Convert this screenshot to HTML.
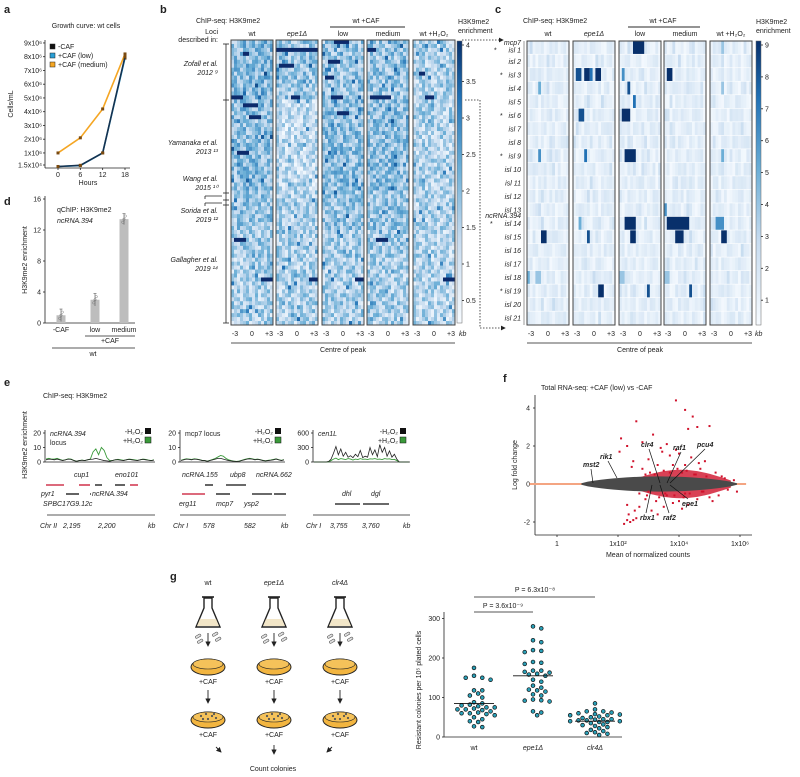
<!DOCTYPE html>
<html><head><meta charset="utf-8"><style>
html,body{margin:0;padding:0;background:#fff}
svg{display:block;font-family:"Liberation Sans",sans-serif}
text{fill:#222}
</style></head><body>
<svg id="fig" width="800" height="777" viewBox="0 0 800 777" xmlns="http://www.w3.org/2000/svg">
<defs>
<linearGradient id="cbar" x1="0" y1="1" x2="0" y2="0">
<stop offset="0" stop-color="#f7fbff"/><stop offset="0.3" stop-color="#c6dbef"/><stop offset="0.55" stop-color="#6baed6"/><stop offset="0.8" stop-color="#2171b5"/><stop offset="1" stop-color="#08306b"/>
</linearGradient>
<marker id="arr" markerWidth="6" markerHeight="6" refX="5" refY="3" orient="auto"><path d="M0,0 L6,3 L0,6 z" fill="#222"/></marker>
</defs>
</svg>
<script>
// ---------- DATA ----------
const aHours=[0,6,12,18];
const aNoCaf=[0.015,0.1,1.0,8.0];
const aLow=[0.015,0.08,1.0,7.9];
const aMed=[1.0,2.1,4.2,8.2];
const dCats=["-CAF","low","medium"];
const dVals=[1.0,3.0,13.4];
const dErr=[0.8,0.8,0.7];
const bSectionMeans=[[0.42,0.36,0.36,0.36,0.3],[0.4,0.24,0.4,0.4,0.28],[0.36,0.3,0.36,0.36,0.28],[0.32,0.3,0.32,0.32,0.28],[0.3,0.3,0.3,0.3,0.27]];
const bStreaks=[[0,3,4,5],[0,14,0,3],[0,16,4,8],[0,19,6,9],[0,60,10,13],[0,50,1,4],[0,28,2,5],[1,2,0,13],[1,6,1,5],[1,14,5,7],[1,60,11,13],[2,0,4,8],[2,5,2,5],[2,9,1,3],[2,14,3,6],[2,18,5,8],[2,60,11,13],[3,2,0,2],[3,14,1,7],[3,50,3,6],[4,14,4,6],[4,60,10,13],[4,8,2,3]];
const cRows=["isl 1","isl 2","isl 3","isl 4","isl 5","isl 6","isl 7","isl 8","isl 9","isl 10","isl 11","isl 12","isl 13","isl 14","isl 15","isl 16","isl 17","isl 18","isl 19","isl 20","isl 21"];
const cStar=[0,2,5,8,13,18];
const cBlocks=[[2,0,5,8,9],[2,2,1,1,6],[2,3,3,3,8],[2,4,5,5,7],[2,5,1,3,9],[2,8,2,5,9],[2,13,2,5,9],[2,14,4,5,9],[2,18,10,10,8],[2,17,0,1,4],
[1,2,1,2,8],[1,2,4,5,9],[1,2,6,6,7],[1,2,8,9,9],[1,5,2,3,8],[1,8,4,4,7],[1,14,5,5,8],[1,18,9,10,9],[1,13,2,2,5],
[3,2,1,2,9],[3,13,1,8,9],[3,14,4,6,9],[3,18,9,9,8],[3,12,0,0,6],[3,17,0,1,4],
[0,3,4,4,5],[0,8,4,4,6],[0,14,5,6,9],[0,17,0,0,5],[0,17,3,4,4],
[4,13,2,4,6],[4,14,4,5,9],[4,0,4,4,4],[4,8,4,4,5],[4,3,4,4,4]];
const e1Black=[1.5,2,1.8,1.5,2,1.5,1,1.5,2,1.8,1,0.5,1,1.2,1,1.5,1.8,2,2.5,2,1.5,1,0.8,0.5,1,1.5,1.5,1.2,1,1.5,1.8,1.5,1.2,1,1.5,1.8,1.5,1.2,1,1.3];
const e1Green=[2,2.5,2,2,2.5,1.8,1.2,1.5,2.2,2,1.2,0.5,1,1.3,1,1.5,2,7,9,5,10,8,3,1,1,1.5,1.8,1.5,1.2,1.5,2,1.8,1.5,1.2,1.5,2,1.8,1.3,1,1.5];
const e2Black=[1,1.5,2,1.8,1.5,2,1.8,1.5,1,1,0.5,1,1.5,2,2.5,2.5,2,1.5,1,0.8,0.5,0.3,0.5,1,1.5,2,2.2,2,1.5,1.8,1.5,1,0.8,1,1.2,1.5,2,1.5,1,1.5];
const e2Green=[1.2,1.8,2.2,2,1.8,2.2,2,1.6,1.2,1,0.6,1.2,1.8,2.5,3.5,4.5,4,2.5,1.5,1,0.6,0.4,0.6,1.2,1.8,2.2,2.5,2.2,1.8,2,1.6,1.2,0.8,1.2,1.4,1.8,2.2,1.6,1.2,1.6];
const e3Black=[0,0,0,0,0,0,10,60,180,320,150,270,120,200,100,130,90,160,110,240,90,120,100,300,150,250,110,360,200,300,120,230,100,160,60,0,0,0,0,0];
const e3Green=[0,0,0,0,0,0,5,30,60,80,50,70,60,50,70,60,40,60,50,70,55,60,50,65,60,70,55,60,50,70,60,65,50,55,30,0,0,0,0,0];
const fRedX=[3.9,4.2,4.45,4.6,4.3,5.0,2.6,2.1,2.8,3.15,2.3,3.6,2.05,4.85,3.4,3.7,4.0,4.4,2.5,3.0,3.3,3.8,4.2,4.7,5.2,5.5,5.8,2.8,3.5,4.1,4.5,3.2,2.9,2.2,2.3,2.4,2.5,2.6,2.35,2.55,2.7,2.3,3.1,3.3,3.5,3.8,4.0,4.3,4.6,5.0,5.3,5.9,2.9,3.6,4.2,4.8,3.0,2.7,3.45,3.9,4.1,4.65,5.1,3.25,2.45,3.7,3.95,4.25,4.55,4.9,3.35,3.55,3.85,4.15,4.35,4.75,5.4,5.6,3.05,2.95];
const fRedY=[4.4,3.9,3.55,3.0,2.9,3.05,3.3,2.4,2.2,2.6,2.0,2.1,1.7,1.2,1.9,1.5,1.6,1.4,1.2,1.3,1.0,1.0,1.0,0.8,0.6,0.3,0.2,0.8,0.7,0.6,0.5,0.5,0.5,-2.1,-1.9,-2.0,-1.9,-1.8,-1.6,-1.4,-1.2,-1.1,-1.4,-1.6,-1.2,-1.0,-0.9,-1.1,-0.8,-0.7,-0.6,-0.4,-0.8,-0.6,-0.5,-0.4,-0.4,-0.5,1.7,1.8,-1.3,1.1,-0.9,-0.9,0.9,0.6,0.8,0.7,0.5,0.4,-0.7,-0.5,-0.6,-0.7,-0.5,-0.4,0.4,-0.3,0.6,-0.6];
const gCats=["wt","epe1Δ","clr4Δ"];
const gWt=[175,155,150,150,145,118,118,110,105,100,88,85,82,80,78,75,75,72,70,70,68,65,62,60,60,58,55,50,45,40,38,27,25];
const gEpe1=[280,275,245,240,220,218,215,190,188,185,168,168,165,163,160,158,155,145,140,130,125,120,118,115,108,105,95,93,92,90,65,62,55];
const gClr4=[85,70,65,65,62,60,58,57,55,55,52,50,48,45,45,44,42,42,40,40,38,38,35,32,30,28,25,22,18,15,12,10,8,5];
const gMedians=[85,155,40];

// ---------- HELPERS ----------
const svg=document.getElementById('fig');
const NS='http://www.w3.org/2000/svg';
function mk(tag,attrs,parent){const e=document.createElementNS(NS,tag);for(const k in attrs)e.setAttribute(k,attrs[k]);(parent||svg).appendChild(e);return e;}
function grp(name){const g=document.createElementNS(NS,'g');


svg.appendChild(g);return g;}
function txt(p,x,y,s,size,opts){opts=opts||{};const t=mk('text',{x:x,y:y,'font-size':size||7,'text-anchor':opts.anchor||'start'},p);if(opts.italic)t.setAttribute('font-style','italic');if(opts.bold)t.setAttribute('font-weight','bold');if(opts.rot)t.setAttribute('transform','rotate(-90 '+x+' '+y+')');t.textContent=s;return t;}
function line(p,x1,y1,x2,y2,c,w,dash){const l=mk('line',{x1:x1,y1:y1,x2:x2,y2:y2,stroke:c||'#222','stroke-width':w||0.8},p);if(dash)l.setAttribute('stroke-dasharray',dash);return l;}
function hash(a,b,c){let h=(a*374761393+b*668265263+c*2147483647)|0;h=(h^(h>>>13))*1274126177|0;return ((h^(h>>>16))>>>0)/4294967295;}
const stops=[[247,251,255],[198,219,239],[107,174,214],[33,113,181],[8,48,107]];
function blue(t){t=Math.max(0,Math.min(1,t));const p=t*4,i=Math.min(3,Math.floor(p)),f=p-i;const a=stops[i],b=stops[i+1];return 'rgb('+a.map((v,k)=>Math.round(v+(b[k]-v)*f)).join(',')+')';}
function label(ch,x,y){const t=txt(svg,x,y,ch,11,{bold:true});}

// ---------- PANEL A ----------
(function(){
const g=grp('panel-a-growth-curve');label('a',4,13);
const xS=h=>58+h*(125-58)/18, yS=v=>166.7-v*13.75;
txt(g,86,28,'Growth curve: wt cells',7,{anchor:'middle'});
line(g,45,40,45,168);line(g,45,168,130,168);
['1.5x10⁴','1x10⁶','2x10⁶','3x10⁶','4x10⁶','5x10⁶','6x10⁶','7x10⁶','8x10⁶','9x10⁶'].forEach((s,i)=>{const v=i===0?0.015:i;const y=i===0?165:yS(v);line(g,43,y,45,y);txt(g,42,y+2.5,s,7,{anchor:'end'});});
aHours.forEach(h=>{line(g,xS(h),168,xS(h),170);txt(g,xS(h),177,h,7,{anchor:'middle'});});
txt(g,88,185,'Hours',7,{anchor:'middle'});
txt(g,13,104,'Cells/mL',7,{anchor:'middle',rot:true});
[[aMed,'#f5a623','medium'],[aLow,'#2a9fd6','low'],[aNoCaf,'#16324f','no-caf']].forEach(([arr,c,n])=>{
 const pl=mk('polyline',{points:arr.map((v,i)=>xS(aHours[i])+','+yS(v)).join(' '),fill:'none',stroke:c,'stroke-width':1.6},g);
 
 
 arr.forEach((v,i)=>mk('rect',{x:xS(aHours[i])-1.5,y:yS(v)-1.5,width:3,height:3,fill:'#7a4a10'},g));});
[['-CAF','#111'],['+CAF (low)','#2a9fd6'],['+CAF (medium)','#f5a623']].forEach(([s,c],i)=>{mk('rect',{x:50,y:44+i*9,width:5,height:5,fill:c,stroke:'#222','stroke-width':0.5},g);txt(g,58,49+i*9,s,7);});
})();

// ---------- PANEL D ----------
(function(){
const g=grp('panel-d-qchip');label('d',4,205);
const yS=v=>323-v*(124/16);const xs=[61,95,124];
line(g,45,196,45,323);line(g,45,323,135,323);
[0,4,8,12,16].forEach(v=>{line(g,43,yS(v),45,yS(v));txt(g,41,yS(v)+2.5,v,7,{anchor:'end'});});
txt(g,57,212,'qChIP: H3K9me2',7);txt(g,57,223,'ncRNA.394',7,{italic:true});
txt(g,27,260,'H3K9me2 enrichment',7,{anchor:'middle',rot:true});
dVals.forEach((v,i)=>{const r=mk('rect',{x:xs[i]-4.5,y:yS(v),width:9,height:323-yS(v),fill:'#bdbdbd'},g);
 
 
 line(g,xs[i],yS(v+dErr[i]),xs[i],yS(v-dErr[i]>0?v-dErr[i]:0),'#555',0.6);
 line(g,xs[i]-1.5,yS(v+dErr[i]),xs[i]+1.5,yS(v+dErr[i]),'#555',0.6);
 [-0.4,0,0.4].forEach((o,k)=>mk('circle',{cx:xs[i]+(k-1)*1.2,cy:yS(v+o),r:1.2,fill:'none',stroke:'#777','stroke-width':0.5},g));
 txt(g,xs[i],332,dCats[i],7,{anchor:'middle'});});
line(g,85,336,135,336);txt(g,110,343,'+CAF',7,{anchor:'middle'});
line(g,52,348,135,348);txt(g,93,356,'wt',7,{anchor:'middle'});
})();

// ---------- PANEL B ----------
(function(){
const g=grp('panel-b-heatmap');label('b',160,13);
const boxX=[231,276,322,367,413],W=42,top=40,bot=325,nR=72,nC=14;const rh=(bot-top)/nR,cw=W/nC;
const secEnd=[15,38,48,55,72];
txt(g,196,23,'ChIP-seq: H3K9me2',7);
line(g,330,27,405,27,'#555',1.2);txt(g,366,23,'wt +CAF',7,{anchor:'middle'});
['wt','epe1Δ','low','medium','wt +H₂O₂'].forEach((s,i)=>txt(g,boxX[i]+W/2,36,s,7,{anchor:'middle',italic:i===1}));
boxX.forEach((bx,p)=>{
 const hm=mk('g',{},g);
 
 
 for(let r=0;r<nR;r++){const sec=secEnd.findIndex(e=>r<e);const m=bSectionMeans[sec][p];
  for(let c=0;c<nC;c++){let v=m+(hash(p,r,c)-0.5)*0.45;if(hash(r,c,p+7)>0.95)v+=0.25;
   mk('rect',{x:bx+c*cw,y:top+r*rh,width:cw+0.3,height:rh+0.3,fill:blue(v)},hm);}}
 bStreaks.filter(s=>s[0]===p).forEach(s=>mk('rect',{x:bx+s[2]*cw,y:top+s[1]*rh,width:(s[3]-s[2]+1)*cw,height:rh,fill:'#0d2a6b'},hm));
 mk('rect',{x:bx,y:top,width:W,height:bot-top,fill:'none',stroke:'#444','stroke-width':1},g);
 [['-3',bx+4],['0',bx+W/2],['+3',bx+W-4]].forEach(([s,x])=>txt(g,x,336,s,7,{anchor:'middle'}));});
txt(g,459,336,'kb',7,{italic:true});
line(g,231,343,455,343,'#555',1);txt(g,343,352,'Centre of peak',7,{anchor:'middle'});
mk('rect',{x:457,y:41,width:5,height:282,fill:'url(#cbar)',stroke:'#666','stroke-width':0.5},g);
txt(g,458,24,'H3K9me2',7);txt(g,458,33,'enrichment',7);
[4,3.5,3,2.5,2,1.5,1,0.5].forEach((v,i)=>{const y=45+i*36.5;line(g,462,y,464,y);txt(g,466,y+2.5,v,7);});
txt(g,218,34,'Loci',7,{anchor:'end'});txt(g,218,42,'described in:',7,{anchor:'end'});
line(g,226,44,226,323);[44,100,193,200,205,323].forEach(y=>line(g,223,y,229,y));
line(g,205,196,222,196);line(g,205,196,205,199);line(g,205,203,222,203);line(g,205,203,205,206);
[['Zofall et al.','2012 ⁹',66],['Yamanaka et al.','2013 ¹³',145],['Wang et al.','2015 ¹⁰',181],['Sorida et al.','2019 ¹²',213],['Gallagher et al.','2019 ¹⁴',262]].forEach(([a,b,y])=>{txt(g,218,y,a,7,{anchor:'end',italic:true});txt(g,218,y+9,b,7,{anchor:'end',italic:true});});
line(g,462,40,503,40,'#222',0.8,'1.5,1.5').setAttribute('marker-end','url(#arr)');
mk('polyline',{points:'465,100 480,100 480,328 505,328',fill:'none',stroke:'#222','stroke-width':0.8,'stroke-dasharray':'1.5,1.5','marker-end':'url(#arr)'},g);
})();

// ---------- PANEL C ----------
(function(){
const g=grp('panel-c-heatmap');label('c',495,13);
const boxX=[527,573,619,664,710],W=42,top=41,bot=325,nC=15;const rh=(bot-top)/cRows.length,cw=W/nC;
txt(g,523,23,'ChIP-seq: H3K9me2',7);
line(g,628,27,700,27,'#555',1.2);txt(g,663,23,'wt +CAF',7,{anchor:'middle'});
['wt','epe1Δ','low','medium','wt +H₂O₂'].forEach((s,i)=>txt(g,boxX[i]+W/2,36,s,7,{anchor:'middle',italic:i===1}));
boxX.forEach((bx,p)=>{
 const hm=mk('g',{},g);
 
 
 cRows.forEach((r,ri)=>{for(let c=0;c<nC;c++){const v=(0.02+hash(p+11,ri,c)*0.14+(hash(p,ri,c+40)>0.85?0.08:0));mk('rect',{x:bx+c*cw,y:top+ri*rh,width:cw+0.3,height:rh-0.6,fill:blue(v)},hm);}});
 cBlocks.filter(b=>b[0]===p).forEach(b=>mk('rect',{x:bx+b[2]*cw,y:top+b[1]*rh,width:(b[3]-b[2]+1)*cw,height:rh-0.6,fill:blue((b[4]-1)/8)},hm));
 mk('rect',{x:bx,y:top,width:W,height:bot-top,fill:'none',stroke:'#444','stroke-width':1},g);
 [['-3',bx+4],['0',bx+W/2],['+3',bx+W-4]].forEach(([s,x])=>txt(g,x,336,s,7,{anchor:'middle'}));});
txt(g,755,336,'kb',7,{italic:true});
line(g,527,343,752,343,'#555',1);txt(g,640,352,'Centre of peak',7,{anchor:'middle'});
line(g,524,41,524,325,'#555',0.6);
cRows.forEach((r,i)=>{const y=top+(i+0.5)*rh+2.5;txt(g,521,y+(i===0?2:0),r,7,{anchor:'end',italic:true});if(cStar.includes(i))txt(g,i===13?490:(i===0?494:500),y+(i===0?2:0),'*',7);});
txt(g,521,top+4,'mcp7',7,{anchor:'end',italic:true});
txt(g,521,top+13*rh+1,'ncRNA.394',7,{anchor:'end',italic:true});
mk('rect',{x:756,y:41,width:5,height:284,fill:'url(#cbar)',stroke:'#666','stroke-width':0.5},g);
txt(g,756,24,'H3K9me2',7);txt(g,756,33,'enrichment',7);
[9,8,7,6,5,4,3,2,1].forEach((v,i)=>{const y=45+i*31.9;line(g,761,y,763,y);txt(g,765,y+2.5,v,7);});
})();

// ---------- PANEL E ----------
(function(){
const g=grp('panel-e-tracks');label('e',4,386);
txt(g,43,398,'ChIP-seq: H3K9me2',7);
txt(g,27,445,'H3K9me2 enrichment',7,{anchor:'middle',rot:true});
const plots=[{x0:45,x1:155,max:20,ticks:[0,10,20],b:e1Black,gr:e1Green,t:['ncRNA.394','locus'],it:[true,false]},
{x0:180,x1:285,max:20,ticks:[0,10,20],b:e2Black,gr:e2Green,t:['mcp7 locus'],it:[false]},
{x0:313,x1:410,max:600,ticks:[0,300,600],b:e3Black,gr:e3Green,t:['cen1L'],it:[true]}];
plots.forEach((P,pi)=>{
 const yS=v=>462-v*(29/P.max),xS=i=>P.x0+1+i*(P.x1-P.x0-2)/(P.b.length-1);
 line(g,P.x0,430,P.x0,462);line(g,P.x0,462,P.x1,462);
 P.ticks.forEach(v=>{line(g,P.x0-2,yS(v),P.x0,yS(v));txt(g,P.x0-4,yS(v)+2.5,v,7,{anchor:'end'});});
 const gl=mk('polyline',{points:P.gr.map((v,i)=>xS(i)+','+yS(v)).join(' '),fill:'none',stroke:'#3a9a3a','stroke-width':0.9},g);
 
 
 const bl=mk('polyline',{points:P.b.map((v,i)=>xS(i)+','+yS(v)).join(' '),fill:'none',stroke:'#222','stroke-width':0.8},g);
 
 
 P.t.forEach((s,k)=>txt(g,P.x0+5,436+k*9,s,7,{italic:P.it[k]}));
 txt(g,P.x1-12,434,'-H₂O₂',7,{anchor:'end'});txt(g,P.x1-12,443,'+H₂O₂',7,{anchor:'end'});
 mk('rect',{x:P.x1-10,y:428,width:6,height:6,fill:'#111'},g);mk('rect',{x:P.x1-10,y:437,width:6,height:6,fill:'#3a9a3a',stroke:'#111','stroke-width':0.5},g);});
const I={italic:true};
txt(g,74,477,'cup1',7,I);txt(g,115,477,'eno101',7,I);
[[46,64,485,'#c8102e'],[79,90,485,'#c8102e'],[95,102,485,'#111'],[115,125,485,'#111'],[130,138,485,'#c8102e'],[66,79,494,'#111'],[90,91,494,'#111']].forEach(a=>line(g,a[0],a[2],a[1],a[2],a[3],1.3));
txt(g,41,496,'pyr1',7,I);txt(g,92,496,'ncRNA.394',7,I);txt(g,43,506,'SPBC17G9.12c',7,I);
line(g,47,515,155,515);txt(g,40,528,'Chr II',7,I);txt(g,63,528,'2,195',7,I);txt(g,98,528,'2,200',7,I);txt(g,148,528,'kb',7,I);
txt(g,182,477,'ncRNA.155',7,I);txt(g,230,477,'ubp8',7,I);txt(g,256,477,'ncRNA.662',7,I);
[[205,213,485,'#111'],[226,246,485,'#111'],[182,205,494,'#c8102e'],[216,230,494,'#111'],[252,272,494,'#111'],[274,286,494,'#111']].forEach(a=>line(g,a[0],a[2],a[1],a[2],a[3],1.3));
txt(g,179,506,'erg11',7,I);txt(g,216,506,'mcp7',7,I);txt(g,244,506,'ysp2',7,I);
line(g,180,515,286,515);txt(g,173,528,'Chr I',7,I);txt(g,203,528,'578',7,I);txt(g,244,528,'582',7,I);txt(g,281,528,'kb',7,I);
txt(g,342,496,'dhl',7,I);txt(g,371,496,'dgl',7,I);
line(g,335,504,360,504,'#111',1.3);line(g,363,504,389,504,'#111',1.3);
line(g,313,515,410,515);txt(g,306,528,'Chr I',7,I);txt(g,330,528,'3,755',7,I);txt(g,362,528,'3,760',7,I);txt(g,403,528,'kb',7,I);
})();

// ---------- PANEL F ----------
(function(){
const g=grp('panel-f-ma-plot');label('f',503,382);
const xS=v=>557+v*30.5,yS=v=>484-v*19;
txt(g,541,390,'Total RNA-seq: +CAF (low) vs -CAF',7);
line(g,535,395,535,535);line(g,535,535,752,535);
[4,2,0,-2].forEach(v=>{line(g,533,yS(v),535,yS(v));txt(g,530,yS(v)+2.5,v,7,{anchor:'end'});});
[[0,'1'],[2,'1x10²'],[4,'1x10⁴'],[6,'1x10⁶']].forEach(([v,s])=>{line(g,xS(v),535,xS(v),537);txt(g,xS(v),546,s,7,{anchor:'middle'});});
txt(g,648,557,'Mean of normalized counts',7,{anchor:'middle'});
txt(g,517,465,'Log fold change',7,{anchor:'middle',rot:true});
const band=(x0,x1,w,fn)=>{const n=24,up=[],dn=[];for(let i=0;i<=n;i++){const v=x0+(x1-x0)*i/n;const h=w*fn(i/n);up.push(xS(v)+','+yS(h));dn.unshift(xS(v)+','+yS(-h));}return up.concat(dn).join(' ');};
mk('polygon',{points:band(2.4,5.7,0.75,t=>0.25+0.75*Math.sin(Math.PI*t)),fill:'#d0112b',opacity:0.8},g);
line(g,xS(-0.9),yS(0),xS(6.2),yS(0),'#f4a582',2);
mk('polygon',{points:band(0.8,5.9,0.4,t=>0.1+0.9*Math.pow(Math.sin(Math.PI*t),0.7)),fill:'#4a4a4a'},g);
fRedX.forEach((v,i)=>{const c=mk('rect',{x:xS(v)-1,y:yS(fRedY[i])-1,width:2,height:2,fill:'#d0112b'},g);
 
 });
[['mst2',583,467,593,483],['rik1',600,459,617,478],['clr4',641,447,660,483],['raf1',673,450,667,483],['pcu4',697,447,670,483]].forEach(a=>{txt(g,a[1],a[2],a[0],7,{italic:true,bold:true});line(g,a[1]+8,a[2]+2,a[3],a[4],'#111',0.7);});
[['epe1',682,506,670,485],['rbx1',640,520,652,485],['raf2',663,520,660,485]].forEach(a=>{txt(g,a[1],a[2],a[0],7,{italic:true,bold:true});line(g,a[1]+6,a[2]-7,a[3],a[4],'#111',0.7);});
})();

// ---------- PANEL G ----------
(function(){
const g=grp('panel-g-colonies');label('g',170,580);
const cx=[208,274,340];
['wt','epe1Δ','clr4Δ'].forEach((s,i)=>{const x=cx[i];txt(g,x,585,s,7,{anchor:'middle',italic:i>0});
 const f=mk('g',{},g);
 
 
 mk('path',{d:`M${x-12},${627} L${x+12},627 L${x+4},608 L${x+4},598 L${x-4},598 L${x-4},608 Z`,fill:'#fff',stroke:'#222','stroke-width':1.4},f);
 mk('path',{d:`M${x-11},626 L${x+11},626 L${x+8},619 L${x-8},619 Z`,fill:'#f2e6c8'},f);
 line(f,x-6,597,x+6,597,'#222',1.6);
 line(f,x,633,x,646,'#222',0.9).setAttribute('marker-end','url(#arr)');
 [[-10,636],[-8,641],[7,634],[10,639]].forEach(p=>mk('rect',{x:x+p[0]-3,y:p[1]-1,width:6,height:2.5,rx:1.2,fill:'#ddd',stroke:'#444','stroke-width':0.5,transform:`rotate(-30 ${x+p[0]} ${p[1]})`},f));
 mk('ellipse',{cx:x,cy:667,rx:17,ry:8,fill:'#f2b540',stroke:'#222','stroke-width':1},f);
 mk('ellipse',{cx:x,cy:664,rx:15,ry:5,fill:'#f5c25a',stroke:'#222','stroke-width':0.6},f);
 txt(g,x,684,'+CAF',7,{anchor:'middle'});
 line(g,x,690,x,703,'#222',0.9).setAttribute('marker-end','url(#arr)');
 mk('ellipse',{cx:x,cy:720,rx:17,ry:8,fill:'#f2b540',stroke:'#222','stroke-width':1},f);
 mk('ellipse',{cx:x,cy:717,rx:15,ry:5,fill:'#f5c25a',stroke:'#222','stroke-width':0.6},f);
 [[-7,716],[-2,714],[4,716],[8,718],[0,719],[-5,719],[6,714]].forEach(p=>mk('circle',{cx:x+p[0],cy:p[1],r:1.1,fill:'#555'},f));
 txt(g,x,737,'+CAF',7,{anchor:'middle'});});
line(g,216,747,221,752,'#222',0.9).setAttribute('marker-end','url(#arr)');
line(g,274,745,274,754,'#222',0.9).setAttribute('marker-end','url(#arr)');
line(g,332,747,327,752,'#222',0.9).setAttribute('marker-end','url(#arr)');
txt(g,273,771,'Count colonies',7,{anchor:'middle'});
const yS=v=>737-v*0.395,gx=[474,533,595];
line(g,444,612,444,737);line(g,444,737,622,737);
[0,100,200,300].forEach(v=>{line(g,442,yS(v),444,yS(v));txt(g,440,yS(v)+2.5,v,7,{anchor:'end'});});
txt(g,421,690,'Resistant colonies per 10⁵ plated cells',7,{anchor:'middle',rot:true});
gCats.forEach((s,i)=>txt(g,gx[i],750,s,7,{anchor:'middle',italic:i>0}));
[gWt,gEpe1,gClr4].forEach((arr,gi)=>{
 const placed=[];const d=4.6;
 arr.forEach(v=>{const y=yS(v);let off=0;for(let k=0;k<60;k++){const cand=(k%2?1:-1)*Math.ceil(k/2)*d*0.9;if(placed.every(p=>Math.hypot(p[0]-cand,p[1]-y)>=d)){off=cand;break;}}
  placed.push([off,y]);
  const c=mk('circle',{cx:gx[gi]+off,cy:y,r:1.9,fill:'#2aa0b8',stroke:'#111','stroke-width':0.7},g);
  
  });
 line(g,gx[gi]-20,yS(gMedians[gi]),gx[gi]+20,yS(gMedians[gi]),'#111',0.9);});
line(g,474,612,533,612,'#555',1);txt(g,503,608,'P = 3.6x10⁻⁹',7,{anchor:'middle'});
line(g,474,597,595,597,'#555',1);txt(g,535,592,'P = 6.3x10⁻⁸',7,{anchor:'middle'});
})();
</script>
</body></html>
